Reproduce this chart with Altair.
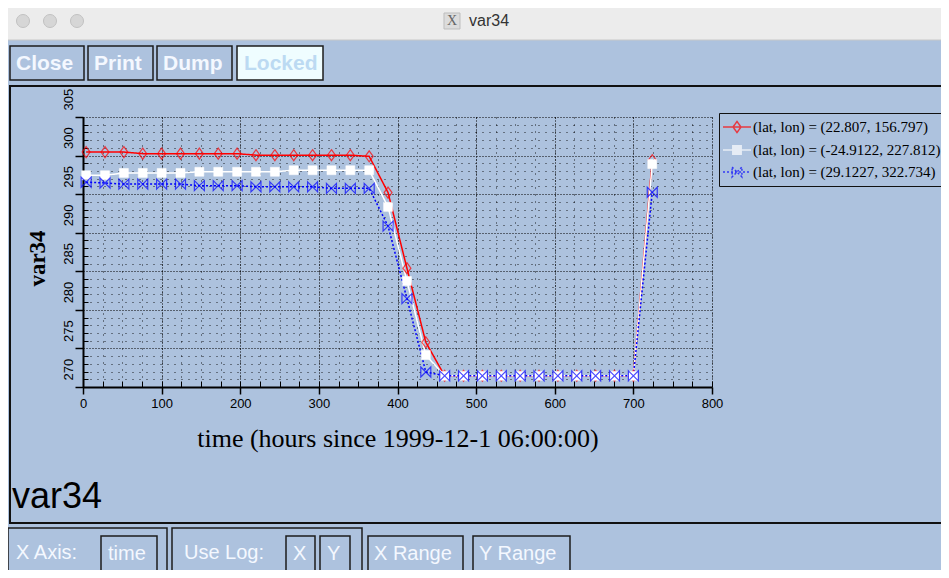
import altair as alt
import pandas as pd

# ---------------- data ----------------
series_names = [
    "(lat, lon) = (22.807, 156.797)",
    "(lat, lon) = (-24.9122, 227.812)",
    "(lat, lon) = (29.1227, 322.734)",
]
series_colors = ["#ff0000", "#ffffff", "#0000ff"]

times = [4, 28, 52, 76, 100, 124, 148, 172, 196, 220, 244, 268, 292, 316, 340,
         364, 388, 412, 436, 460, 484, 508, 532, 556, 580, 604, 628, 652, 676,
         700, 724]

red_vals = [300.45, 300.45, 300.45, 300.25, 300.25, 300.25, 300.25, 300.25, 300.25,
            300.05, 300.05, 300.05, 300.05, 300.05, 300.05, 299.9,
            295.2, 285.4, 275.8,
            271.45, 271.45, 271.45, 271.45, 271.45, 271.45, 271.45, 271.45, 271.45,
            271.45, 271.45, 299.4]
white_vals = [297.45, 297.45, 297.75, 297.75, 297.75, 297.75, 297.9, 297.9, 297.9,
              297.9, 297.9, 298.1, 298.1, 298.1, 298.1, 298.1,
              293.35, 283.75, 274.15,
              271.45, 271.45, 271.45, 271.45, 271.45, 271.45, 271.45, 271.45, 271.45,
              271.45, 271.45, 298.9]
blue_vals = [296.55, 296.45, 296.3, 296.3, 296.3, 296.3, 296.1, 296.1, 296.1,
             295.95, 295.95, 295.95, 295.95, 295.75, 295.75, 295.75,
             290.85, 281.45, 271.95,
             271.45, 271.45, 271.45, 271.45, 271.45, 271.45, 271.45, 271.45, 271.45,
             271.45, 271.45, 295.25]

x_major = [0, 100, 200, 300, 400, 500, 600, 700, 800]
x_minor = [0, 25, 50, 75, 100, 125, 150, 175, 200, 225, 250, 275, 300, 325, 350, 375,
           400, 425, 450, 475, 500, 525, 550, 575, 600, 625, 650, 675, 700, 725, 750,
           775, 800]
y_major = [270, 275, 280, 285, 290, 295, 300, 305]
y_minor = [271, 272, 273, 274, 276, 277, 278, 279, 281, 282, 283, 284, 286, 287, 288,
           289, 291, 292, 293, 294, 296, 297, 298, 299, 301, 302, 303, 304]

rows = []
for name, vals in zip(series_names, [red_vals, white_vals, blue_vals]):
    for t, v in zip(times, vals):
        rows.append({"t": t, "value": v, "series": name})
df = pd.DataFrame(rows)
one = pd.DataFrame({"k": [0]})

# ---------------- style ----------------
BG = "#adc2de"
OX, OY = 83, 117          # screen position of plot origin
PW, PH = 629, 270
AXF = "Liberation Sans"

xs = alt.Scale(domain=[0, 800], nice=False, zero=False)
ys = alt.Scale(domain=[270, 305], nice=False, zero=False)
cscale = alt.Scale(domain=series_names, range=series_colors)

legend_paths = [
    "M-2,0H2M0,-0.79L0.57,0L0,0.79L-0.57,0Z",
    "M-2,0H2M-0.6,-0.6H0.6V0.6H-0.6ZM-0.6,-0.4H0.6M-0.6,-0.2H0.6M-0.6,0.2H0.6M-0.6,0.4H0.6",
    "M-2,0H2M-0.7,-0.7L0.7,0.7L0.7,-0.7L-0.7,0.7Z",
]

x_axis_main = alt.Axis(
    values=x_major, orient="bottom", grid=True, gridColor="black", gridDash=[1, 2],
    gridWidth=1, domainColor="black", domainWidth=2, tickColor="black", tickWidth=1.5,
    tickSize=7, labelFont=AXF, labelFontSize=13, labelColor="black", labelPadding=3,
    labelFlush=False, labelOverlap=False,
    title="time (hours since 1999-12-1 06:00:00)", titleFont="Liberation Serif",
    titleFontSize=26, titleFontWeight="normal", titleColor="black",
    titleY=59, titleBaseline="alphabetic",
)
y_axis_main = alt.Axis(
    values=y_major, orient="left", grid=True, gridColor="black", gridDash=[1, 2],
    gridWidth=1, domainColor="black", domainWidth=2, tickColor="black", tickWidth=1.5,
    tickSize=8, labelFont=AXF, labelFontSize=13, labelColor="black", labelPadding=3,
    labelAngle=-90, labelAlign="left", labelBaseline="alphabetic", labelOffset=-7,
    labelFlush=False, labelOverlap=False,
    title="var34", titleFont="Liberation Serif", titleFontSize=23,
    titleFontWeight="bold", titleColor="black", titleAngle=-90, titleX=-39,
    titleY=141, titleAlign="center", titleBaseline="alphabetic",
)
x_axis_minor = alt.Axis(
    values=x_minor, orient="bottom", offset=-6, tickSize=6, tickColor="black",
    tickWidth=1, labels=False, domain=False, grid=True, gridColor="black",
    gridDash=[1, 6], gridWidth=1, gridOpacity=0.85, title=None,
)
y_axis_minor = alt.Axis(
    values=y_minor, orient="left", offset=-5, tickSize=5, tickColor="black",
    tickWidth=1, labels=False, domain=False, grid=True, gridColor="black",
    gridDash=[1, 6], gridWidth=1, gridOpacity=0.85, title=None,
)

# ---------------- data layers ----------------
lines = alt.Chart(df).mark_line(strokeWidth=1.5).encode(
    x=alt.X("t:Q", scale=xs, axis=x_axis_main),
    y=alt.Y("value:Q", scale=ys, axis=y_axis_main),
    color=alt.Color("series:N", scale=cscale, legend=alt.Legend(title=None)),
    strokeDash=alt.StrokeDash("series:N",
                              scale=alt.Scale(domain=series_names,
                                              range=[[1, 0], [1, 0], [2, 2]]),
                              legend=alt.Legend(title=None)),
)

marker_specs = [
    dict(shape="M0,-1L0.72,0L0,1L-0.72,0Z", size=121, filled=False,
         stroke=series_colors[0], fill="transparent", strokeWidth=1.2),
    dict(shape="square", size=81, filled=True, fill=series_colors[1],
         stroke=series_colors[1], strokeWidth=0.5, opacity=1),
    dict(shape="M-1,-1L1,1L1,-1L-1,1Z", size=100, filled=False,
         stroke=series_colors[2], fill="transparent", strokeWidth=1.2),
]
point_layers = []
for name, spec in zip(series_names, marker_specs):
    point_layers.append(
        alt.Chart(df).transform_filter(alt.datum.series == name)
        .mark_point(**spec).encode(
            x=alt.X("t:Q", scale=xs, axis=None),
            y=alt.Y("value:Q", scale=ys, axis=None),
        )
    )

legend_driver = alt.Chart(df).transform_filter("false").mark_point(
    filled=False, strokeWidth=1.5).encode(
    x=alt.X("t:Q", scale=xs, axis=x_axis_minor),
    y=alt.Y("value:Q", scale=ys, axis=y_axis_minor),
    color=alt.Color("series:N", scale=cscale, legend=alt.Legend(title=None)),
    shape=alt.Shape("series:N", scale=alt.Scale(domain=series_names, range=legend_paths),
                    legend=alt.Legend(title=None)),
)

# ---------------- window decoration ----------------
def R(x1, y1, x2, y2, fill="transparent", stroke="#1c1c1c", sw=1.5):
    kw = dict(fill=fill, strokeWidth=sw)
    if stroke:
        kw["stroke"] = stroke
    return alt.Chart(one).mark_rect(**kw).encode(
        x=alt.value(x1 - OX), x2=alt.value(x2 - OX),
        y=alt.value(y1 - OY), y2=alt.value(y2 - OY))

def T(x, y, s, size, color="#f4f8ff", font="Liberation Sans", weight="normal",
      align="left"):
    return alt.Chart(one).mark_text(
        text=s, fontSize=size, font=font, fontWeight=weight, color=color,
        align=align, baseline="middle").encode(x=alt.value(x - OX), y=alt.value(y - OY))

def L(x1, y1, x2, y2, color="#111111", sw=2):
    return alt.Chart(one).mark_rule(color=color, strokeWidth=sw).encode(
        x=alt.value(x1 - OX), x2=alt.value(x2 - OX),
        y=alt.value(y1 - OY), y2=alt.value(y2 - OY))

def C(x, y):
    return alt.Chart(one).mark_point(shape="circle", size=170, filled=True,
                                     fill="#d6d6d6", stroke="#c2c2c2",
                                     strokeWidth=1, opacity=1).encode(
        x=alt.value(x - OX), y=alt.value(y - OY))

chrome = [
    R(8, 8, 949, 40, fill="#ececec", stroke=None),
    L(8, 40, 949, 40, color="#c8c8c8", sw=1),
    C(23, 21), C(50, 21), C(77, 21),
    R(444, 13, 460, 29, fill="#dcdcdc", stroke="#bdbdbd", sw=1),
    T(452, 21, "X", 14, color="#666666", font="Liberation Serif", align="center"),
    T(469, 21, "var34", 16, color="#333333"),
    # top buttons
    R(10, 46, 84, 80), T(16, 64, "Close", 21, weight="bold"),
    R(88, 46, 153, 80), T(94, 64, "Print", 21, weight="bold"),
    R(157, 46, 232, 80), T(163, 64, "Dump", 21, weight="bold"),
    R(237, 46, 323, 80, fill="#effdff"), T(244, 64, "Locked", 21, weight="bold",
                                            color="#bcdaf2"),
    # panel borders
    L(9, 86, 949, 86), L(10, 86, 10, 523), L(9, 523, 949, 523),
    T(12, 497, "var34", 36, color="#000000"),
    # bottom controls
    R(8, 528, 167, 579), T(16, 553, "X Axis:", 20),
    R(101, 536, 157, 572), T(108, 554, "time", 20),
    R(172, 528, 362, 579), T(184, 553, "Use Log:", 20),
    R(286, 536, 315, 572), T(293, 554, "X", 20),
    R(320, 536, 350, 572), T(327, 554, "Y", 20),
    R(368, 536, 463, 572), T(374, 554, "X Range", 20),
    R(473, 536, 570, 572), T(479, 554, "Y Range", 20),
]

chart = alt.layer(*chrome, lines, *point_layers, legend_driver).resolve_axis(
    x="independent", y="independent"
).properties(
    width=PW, height=PH,
    autosize=alt.AutoSizeParams(type="none"),
    padding={"left": 75, "top": 109, "right": 229, "bottom": 183},
    background=BG,
).configure_view(stroke=None).configure_legend(
    orient="none", legendX=636, legendY=-4, padding=6, strokeColor="#111111",
    symbolSize=196, symbolStrokeWidth=1.5, symbolOffset=4,
    labelFont="Liberation Serif", labelFontSize=15, labelColor="black",
    labelOffset=8, rowPadding=6, labelLimit=400,
)

chart.save("out.html", embed_options={"renderer": "svg", "actions": False})
